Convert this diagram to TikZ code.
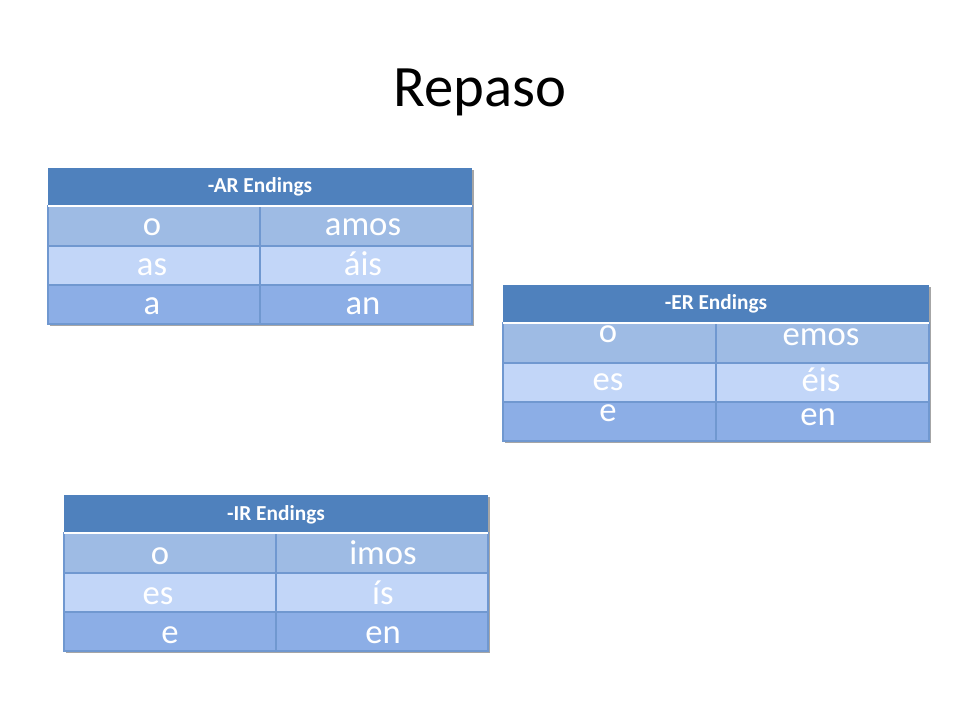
\documentclass[tikz,border=0pt]{standalone}
\usepackage{fontspec}
\setmainfont{Carlito}
\definecolor{hdr}{HTML}{4F81BD}
\definecolor{ra}{HTML}{9EBBE4}
\definecolor{rb}{HTML}{C2D6F8}
\definecolor{rc}{HTML}{8CAEE6}
\definecolor{gridc}{HTML}{7098D0}
\begin{document}
\begin{tikzpicture}[x=0.75pt,y=-0.75pt,
  cell/.style={text=white,font=\fontsize{26}{30}\selectfont,inner sep=0pt,anchor=base},
  head/.style={text=white,font=\fontsize{16}{19}\selectfont\bfseries,inner sep=0pt,anchor=base},
  gl/.style={draw=gridc,line width=0.8pt},
  wl/.style={draw=white,line width=1.5pt}]
\useasboundingbox (0,0) rectangle (960,720);
\fill[white] (0,0) rectangle (960,720);
\node[font=\fontsize{44}{50}\selectfont] (title) at (480,92) {Repaso};
\newcommand{\mytable}[6]{%
  \fill[black!35] (#1+2,#3+2) rectangle (#2+2,#3+158);
  \fill[hdr] (#1,#3) rectangle (#2,#3+38);
  \fill[ra] (#1,#3+38) rectangle (#2,#3+78);
  \fill[rb] (#1,#3+78) rectangle (#2,#3+117);
  \fill[rc] (#1,#3+117) rectangle (#2,#3+156);
  \draw[gl] (#4,#3+38) -- (#4,#3+156);
  \draw[gl] (#1,#3+78) -- (#2,#3+78);
  \draw[gl] (#1,#3+117) -- (#2,#3+117);
  \draw[gl] (#1,#3+38) rectangle (#2,#3+156);
  \draw[wl] (#1,#3+38) -- (#2,#3+38);
  \node[head] (#5h) at ({(#1+#2)/2},#3+25) {#6};
}
\mytable{48}{472}{168}{260}{ar}{-AR Endings}
\node[cell] (ar1a) at (152,236) {o};
\node[cell] (ar1b) at (363,236) {amos};
\node[cell] (ar2a) at (152,276) {as};
\node[cell] (ar2b) at (363,276) {áis};
\node[cell] (ar3a) at (152,315) {a};
\node[cell] (ar3b) at (363,315) {an};
\mytable{503}{929}{285}{716}{er}{-ER Endings}
\node[cell] (er1a) at (608,342) {o};
\node[cell] (er1b) at (821,345) {emos};
\node[cell] (er2a) at (608,390) {es};
\node[cell] (er2b) at (821,391) {éis};
\node[cell] (er3a) at (608,421) {e};
\node[cell] (er3b) at (818,425) {en};
\mytable{64}{488}{495}{276}{ir}{-IR Endings}
\node[cell] (ir1a) at (160,564) {o};
\node[cell] (ir1b) at (383,564) {imos};
\node[cell] (ir2a) at (158,604) {es};
\node[cell] (ir2b) at (383,604) {ís};
\node[cell] (ir3a) at (170,643) {e};
\node[cell] (ir3b) at (383,643) {en};
\end{tikzpicture}
\end{document}
